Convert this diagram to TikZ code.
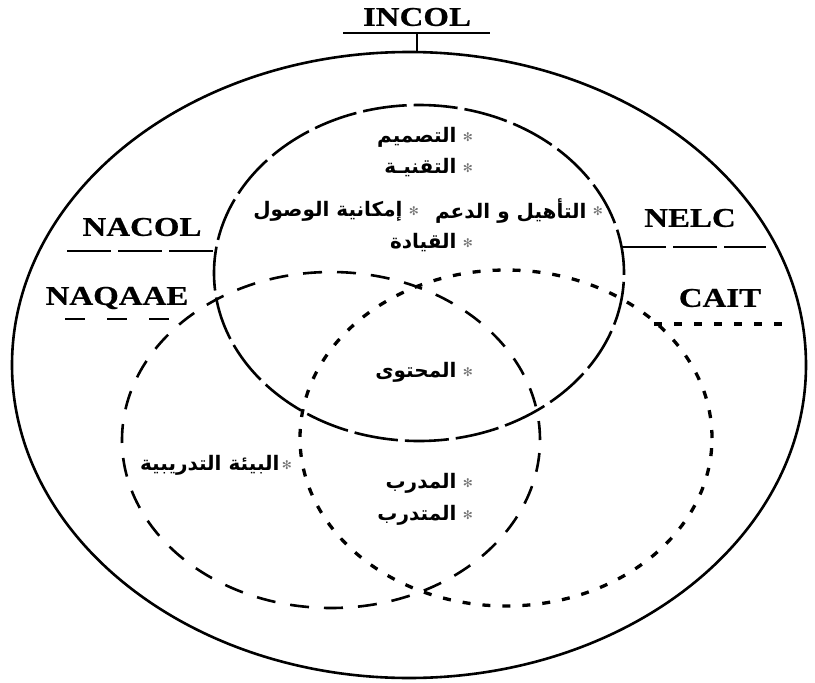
\documentclass[tikz,border=0pt]{standalone}
\usepackage{fontspec}
\setmainfont{Liberation Serif}
\newfontfamily\orgfont[FakeStretch=1.22,FakeBold=0.6]{Liberation Serif}
\newfontfamily\arabicfont[Script=Arabic]{DejaVu Sans}
\newfontfamily\symfont{DejaVu Sans}
\TeXXeTstate=1
\usetikzlibrary{positioning}

\begin{document}
\begin{tikzpicture}[x=1pt,y=-1pt,
  ring/.style={line width=2.6pt},
  longdash/.style={ring,dash pattern=on 44pt off 7pt},
  middash/.style={ring,dash pattern=on 19pt off 15pt},
  dotdash/.style={line width=3.3pt,dash pattern=on 8pt off 12pt},
  org/.style={font=\orgfont\bfseries\fontsize{27}{28}\selectfont,inner sep=0pt},
  star/.style={font=\symfont\fontsize{12}{12}\selectfont,text=black!55,inner sep=0pt},
  item/.style={font=\arabicfont\bfseries\fontsize{20}{22}\selectfont,inner sep=0pt,left=6pt of #1}
]
\useasboundingbox (0,0) rectangle (815,683);

% the four rings
\draw[ring] (409,365) ellipse [x radius=397pt,y radius=313pt];
\draw[longdash] (419,273) ellipse [x radius=205pt,y radius=168pt];
\draw[middash] (331,440) ellipse [x radius=209pt,y radius=168pt];
\draw[dotdash] (506,438) ellipse [x radius=206pt,y radius=168pt];

% organisations
\node[org] (incol)  at (417,17)  {INCOL};
\node[org] (nacol)  at (142,227) {NACOL};
\node[org] (naqaae) at (117,298) {NAQAAE};
\node[org] (nelc)   at (690,218) {NELC};
\node[org] (cait)   at (720,298) {CAIT};

\coordinate (incolL) at (343,33);
\coordinate (incolR) at (490,33);
\coordinate (incolT) at (417,33);
\coordinate (incolB) at (417,52);
\draw[ring] (incolL) -- (incolR);
\draw[ring] (incolT) -- (incolB);

\coordinate (nacolL) at (67,251);
\coordinate (nacolR) at (216,251);
\draw[longdash] (nacolL) -- (nacolR);
\coordinate (naqaaeL) at (65,319);
\coordinate (naqaaeR) at (172,319);
\draw[middash,dash pattern=on 20pt off 22pt] (naqaaeL) -- (naqaaeR);
\coordinate (nelcL) at (622,247);
\coordinate (nelcR) at (766,247);
\draw[longdash] (nelcL) -- (nelcR);
\coordinate (caitL) at (654,324);
\coordinate (caitR) at (784,324);
\draw[dotdash] (caitL) -- (caitR);

% items
\foreach \y/\txt [count=\i] in {137/التصميم,168/التقنيـة,243/القيادة,372/المحتوى,483/المدرب,515/المتدرب}{
  \node[star] (s\i) at (468,\y) {✻};
  \node[item=s\i] (it\i) {\beginR\txt\endR};
}
\node[star] (sq) at (598,211) {✻};
\node[item=sq] (qual) {\beginR التأهيل و الدعم\endR};
\node[star] (sa) at (414,211) {✻};
\node[item=sa] (access) {\beginR إمكانية الوصول\endR};
\node[star] (se) at (287,465) {✻};
\node[item=se,left=2pt of se] (env) {\beginR البيئة التدريبية\endR};
\end{tikzpicture}
\end{document}
